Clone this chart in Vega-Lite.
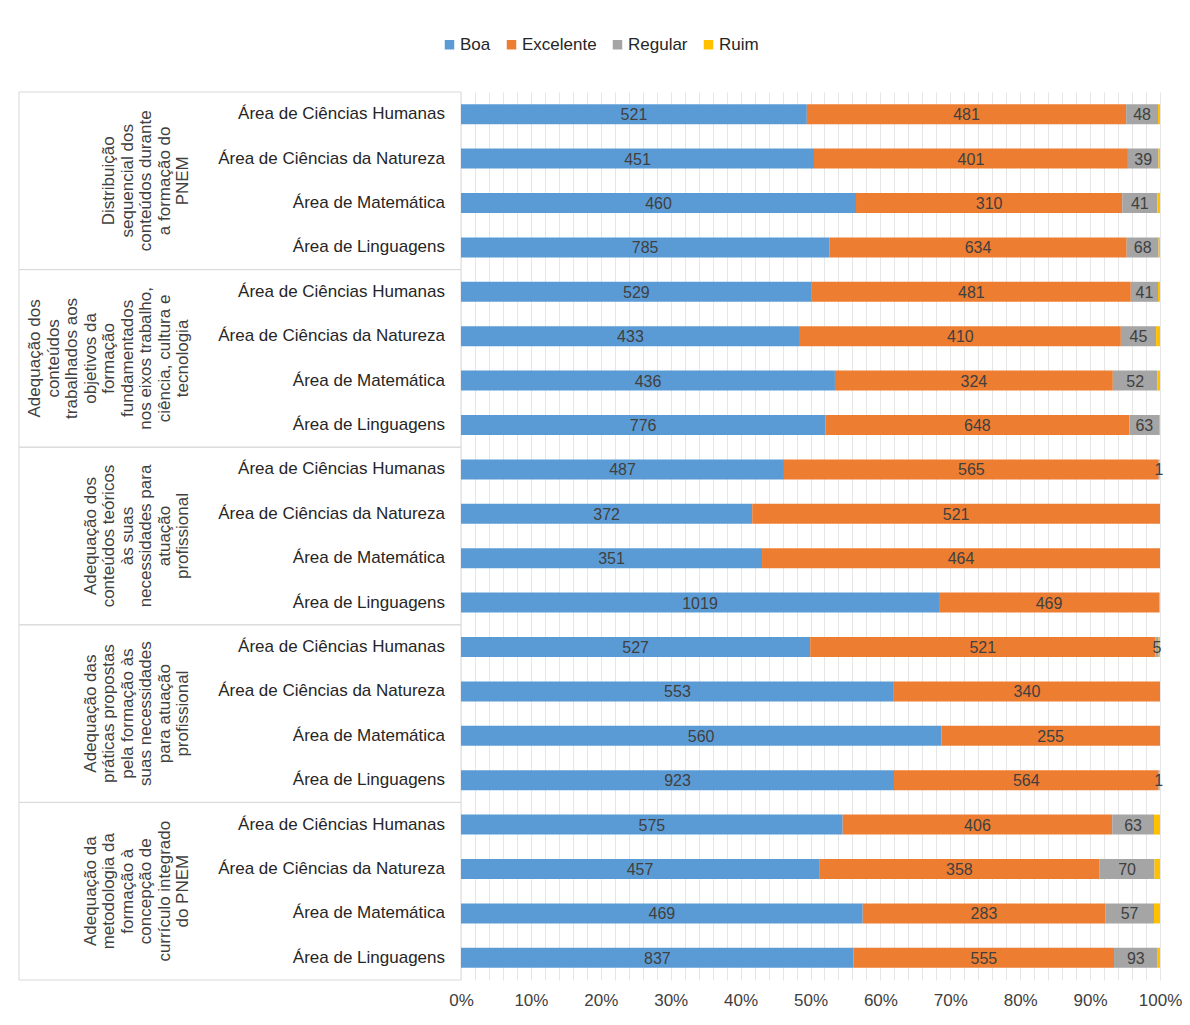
{
  "$schema": "https://vega.github.io/schema/vega-lite/v6.json",
  "background": "white",
  "padding": {"left": 18, "top": 36, "right": 31, "bottom": 10},
  "bounds": "flush",
  "data": {
    "values": [
      {"grupo": "Distribuição\nsequencial dos\nconteúdos durante\na formação do\nPNEM", "area": "Área de Ciências Humanas", "nivel": "Boa", "valor": 521},
      {"grupo": "Distribuição\nsequencial dos\nconteúdos durante\na formação do\nPNEM", "area": "Área de Ciências Humanas", "nivel": "Excelente", "valor": 481},
      {"grupo": "Distribuição\nsequencial dos\nconteúdos durante\na formação do\nPNEM", "area": "Área de Ciências Humanas", "nivel": "Regular", "valor": 48},
      {"grupo": "Distribuição\nsequencial dos\nconteúdos durante\na formação do\nPNEM", "area": "Área de Ciências Humanas", "nivel": "Ruim", "valor": 3},
      {"grupo": "Distribuição\nsequencial dos\nconteúdos durante\na formação do\nPNEM", "area": "Área de Ciências da Natureza", "nivel": "Boa", "valor": 451},
      {"grupo": "Distribuição\nsequencial dos\nconteúdos durante\na formação do\nPNEM", "area": "Área de Ciências da Natureza", "nivel": "Excelente", "valor": 401},
      {"grupo": "Distribuição\nsequencial dos\nconteúdos durante\na formação do\nPNEM", "area": "Área de Ciências da Natureza", "nivel": "Regular", "valor": 39},
      {"grupo": "Distribuição\nsequencial dos\nconteúdos durante\na formação do\nPNEM", "area": "Área de Ciências da Natureza", "nivel": "Ruim", "valor": 2},
      {"grupo": "Distribuição\nsequencial dos\nconteúdos durante\na formação do\nPNEM", "area": "Área de Matemática", "nivel": "Boa", "valor": 460},
      {"grupo": "Distribuição\nsequencial dos\nconteúdos durante\na formação do\nPNEM", "area": "Área de Matemática", "nivel": "Excelente", "valor": 310},
      {"grupo": "Distribuição\nsequencial dos\nconteúdos durante\na formação do\nPNEM", "area": "Área de Matemática", "nivel": "Regular", "valor": 41},
      {"grupo": "Distribuição\nsequencial dos\nconteúdos durante\na formação do\nPNEM", "area": "Área de Matemática", "nivel": "Ruim", "valor": 3},
      {"grupo": "Distribuição\nsequencial dos\nconteúdos durante\na formação do\nPNEM", "area": "Área de Linguagens", "nivel": "Boa", "valor": 785},
      {"grupo": "Distribuição\nsequencial dos\nconteúdos durante\na formação do\nPNEM", "area": "Área de Linguagens", "nivel": "Excelente", "valor": 634},
      {"grupo": "Distribuição\nsequencial dos\nconteúdos durante\na formação do\nPNEM", "area": "Área de Linguagens", "nivel": "Regular", "valor": 68},
      {"grupo": "Distribuição\nsequencial dos\nconteúdos durante\na formação do\nPNEM", "area": "Área de Linguagens", "nivel": "Ruim", "valor": 3},

      {"grupo": "Adequação dos\nconteúdos\ntrabalhados aos\nobjetivos da\nformação\nfundamentados\nnos eixos trabalho,\nciência, cultura e\ntecnologia", "area": "Área de Ciências Humanas", "nivel": "Boa", "valor": 529},
      {"grupo": "Adequação dos\nconteúdos\ntrabalhados aos\nobjetivos da\nformação\nfundamentados\nnos eixos trabalho,\nciência, cultura e\ntecnologia", "area": "Área de Ciências Humanas", "nivel": "Excelente", "valor": 481},
      {"grupo": "Adequação dos\nconteúdos\ntrabalhados aos\nobjetivos da\nformação\nfundamentados\nnos eixos trabalho,\nciência, cultura e\ntecnologia", "area": "Área de Ciências Humanas", "nivel": "Regular", "valor": 41},
      {"grupo": "Adequação dos\nconteúdos\ntrabalhados aos\nobjetivos da\nformação\nfundamentados\nnos eixos trabalho,\nciência, cultura e\ntecnologia", "area": "Área de Ciências Humanas", "nivel": "Ruim", "valor": 3},
      {"grupo": "Adequação dos\nconteúdos\ntrabalhados aos\nobjetivos da\nformação\nfundamentados\nnos eixos trabalho,\nciência, cultura e\ntecnologia", "area": "Área de Ciências da Natureza", "nivel": "Boa", "valor": 433},
      {"grupo": "Adequação dos\nconteúdos\ntrabalhados aos\nobjetivos da\nformação\nfundamentados\nnos eixos trabalho,\nciência, cultura e\ntecnologia", "area": "Área de Ciências da Natureza", "nivel": "Excelente", "valor": 410},
      {"grupo": "Adequação dos\nconteúdos\ntrabalhados aos\nobjetivos da\nformação\nfundamentados\nnos eixos trabalho,\nciência, cultura e\ntecnologia", "area": "Área de Ciências da Natureza", "nivel": "Regular", "valor": 45},
      {"grupo": "Adequação dos\nconteúdos\ntrabalhados aos\nobjetivos da\nformação\nfundamentados\nnos eixos trabalho,\nciência, cultura e\ntecnologia", "area": "Área de Ciências da Natureza", "nivel": "Ruim", "valor": 5},
      {"grupo": "Adequação dos\nconteúdos\ntrabalhados aos\nobjetivos da\nformação\nfundamentados\nnos eixos trabalho,\nciência, cultura e\ntecnologia", "area": "Área de Matemática", "nivel": "Boa", "valor": 436},
      {"grupo": "Adequação dos\nconteúdos\ntrabalhados aos\nobjetivos da\nformação\nfundamentados\nnos eixos trabalho,\nciência, cultura e\ntecnologia", "area": "Área de Matemática", "nivel": "Excelente", "valor": 324},
      {"grupo": "Adequação dos\nconteúdos\ntrabalhados aos\nobjetivos da\nformação\nfundamentados\nnos eixos trabalho,\nciência, cultura e\ntecnologia", "area": "Área de Matemática", "nivel": "Regular", "valor": 52},
      {"grupo": "Adequação dos\nconteúdos\ntrabalhados aos\nobjetivos da\nformação\nfundamentados\nnos eixos trabalho,\nciência, cultura e\ntecnologia", "area": "Área de Matemática", "nivel": "Ruim", "valor": 3},
      {"grupo": "Adequação dos\nconteúdos\ntrabalhados aos\nobjetivos da\nformação\nfundamentados\nnos eixos trabalho,\nciência, cultura e\ntecnologia", "area": "Área de Linguagens", "nivel": "Boa", "valor": 776},
      {"grupo": "Adequação dos\nconteúdos\ntrabalhados aos\nobjetivos da\nformação\nfundamentados\nnos eixos trabalho,\nciência, cultura e\ntecnologia", "area": "Área de Linguagens", "nivel": "Excelente", "valor": 648},
      {"grupo": "Adequação dos\nconteúdos\ntrabalhados aos\nobjetivos da\nformação\nfundamentados\nnos eixos trabalho,\nciência, cultura e\ntecnologia", "area": "Área de Linguagens", "nivel": "Regular", "valor": 63},
      {"grupo": "Adequação dos\nconteúdos\ntrabalhados aos\nobjetivos da\nformação\nfundamentados\nnos eixos trabalho,\nciência, cultura e\ntecnologia", "area": "Área de Linguagens", "nivel": "Ruim", "valor": 2},

      {"grupo": "Adequação dos\nconteúdos teóricos\nàs suas\nnecessidades para\natuação\nprofissional", "area": "Área de Ciências Humanas", "nivel": "Boa", "valor": 487},
      {"grupo": "Adequação dos\nconteúdos teóricos\nàs suas\nnecessidades para\natuação\nprofissional", "area": "Área de Ciências Humanas", "nivel": "Excelente", "valor": 565},
      {"grupo": "Adequação dos\nconteúdos teóricos\nàs suas\nnecessidades para\natuação\nprofissional", "area": "Área de Ciências Humanas", "nivel": "Regular", "valor": 1},
      {"grupo": "Adequação dos\nconteúdos teóricos\nàs suas\nnecessidades para\natuação\nprofissional", "area": "Área de Ciências Humanas", "nivel": "Ruim", "valor": 1},
      {"grupo": "Adequação dos\nconteúdos teóricos\nàs suas\nnecessidades para\natuação\nprofissional", "area": "Área de Ciências da Natureza", "nivel": "Boa", "valor": 372},
      {"grupo": "Adequação dos\nconteúdos teóricos\nàs suas\nnecessidades para\natuação\nprofissional", "area": "Área de Ciências da Natureza", "nivel": "Excelente", "valor": 521},
      {"grupo": "Adequação dos\nconteúdos teóricos\nàs suas\nnecessidades para\natuação\nprofissional", "area": "Área de Matemática", "nivel": "Boa", "valor": 351},
      {"grupo": "Adequação dos\nconteúdos teóricos\nàs suas\nnecessidades para\natuação\nprofissional", "area": "Área de Matemática", "nivel": "Excelente", "valor": 464},
      {"grupo": "Adequação dos\nconteúdos teóricos\nàs suas\nnecessidades para\natuação\nprofissional", "area": "Área de Linguagens", "nivel": "Boa", "valor": 1019},
      {"grupo": "Adequação dos\nconteúdos teóricos\nàs suas\nnecessidades para\natuação\nprofissional", "area": "Área de Linguagens", "nivel": "Excelente", "valor": 469},
      {"grupo": "Adequação dos\nconteúdos teóricos\nàs suas\nnecessidades para\natuação\nprofissional", "area": "Área de Linguagens", "nivel": "Ruim", "valor": 2},

      {"grupo": "Adequação das\npráticas propostas\npela formação às\nsuas necessidades\npara atuação\nprofissional", "area": "Área de Ciências Humanas", "nivel": "Boa", "valor": 527},
      {"grupo": "Adequação das\npráticas propostas\npela formação às\nsuas necessidades\npara atuação\nprofissional", "area": "Área de Ciências Humanas", "nivel": "Excelente", "valor": 521},
      {"grupo": "Adequação das\npráticas propostas\npela formação às\nsuas necessidades\npara atuação\nprofissional", "area": "Área de Ciências Humanas", "nivel": "Regular", "valor": 5},
      {"grupo": "Adequação das\npráticas propostas\npela formação às\nsuas necessidades\npara atuação\nprofissional", "area": "Área de Ciências Humanas", "nivel": "Ruim", "valor": 2},
      {"grupo": "Adequação das\npráticas propostas\npela formação às\nsuas necessidades\npara atuação\nprofissional", "area": "Área de Ciências da Natureza", "nivel": "Boa", "valor": 553},
      {"grupo": "Adequação das\npráticas propostas\npela formação às\nsuas necessidades\npara atuação\nprofissional", "area": "Área de Ciências da Natureza", "nivel": "Excelente", "valor": 340},
      {"grupo": "Adequação das\npráticas propostas\npela formação às\nsuas necessidades\npara atuação\nprofissional", "area": "Área de Matemática", "nivel": "Boa", "valor": 560},
      {"grupo": "Adequação das\npráticas propostas\npela formação às\nsuas necessidades\npara atuação\nprofissional", "area": "Área de Matemática", "nivel": "Excelente", "valor": 255},
      {"grupo": "Adequação das\npráticas propostas\npela formação às\nsuas necessidades\npara atuação\nprofissional", "area": "Área de Linguagens", "nivel": "Boa", "valor": 923},
      {"grupo": "Adequação das\npráticas propostas\npela formação às\nsuas necessidades\npara atuação\nprofissional", "area": "Área de Linguagens", "nivel": "Excelente", "valor": 564},
      {"grupo": "Adequação das\npráticas propostas\npela formação às\nsuas necessidades\npara atuação\nprofissional", "area": "Área de Linguagens", "nivel": "Regular", "valor": 1},
      {"grupo": "Adequação das\npráticas propostas\npela formação às\nsuas necessidades\npara atuação\nprofissional", "area": "Área de Linguagens", "nivel": "Ruim", "valor": 2},

      {"grupo": "Adequação da\nmetodologia da\nformação à\nconcepção de\ncurrículo integrado\ndo PNEM", "area": "Área de Ciências Humanas", "nivel": "Boa", "valor": 575},
      {"grupo": "Adequação da\nmetodologia da\nformação à\nconcepção de\ncurrículo integrado\ndo PNEM", "area": "Área de Ciências Humanas", "nivel": "Excelente", "valor": 406},
      {"grupo": "Adequação da\nmetodologia da\nformação à\nconcepção de\ncurrículo integrado\ndo PNEM", "area": "Área de Ciências Humanas", "nivel": "Regular", "valor": 63},
      {"grupo": "Adequação da\nmetodologia da\nformação à\nconcepção de\ncurrículo integrado\ndo PNEM", "area": "Área de Ciências Humanas", "nivel": "Ruim", "valor": 9},
      {"grupo": "Adequação da\nmetodologia da\nformação à\nconcepção de\ncurrículo integrado\ndo PNEM", "area": "Área de Ciências da Natureza", "nivel": "Boa", "valor": 457},
      {"grupo": "Adequação da\nmetodologia da\nformação à\nconcepção de\ncurrículo integrado\ndo PNEM", "area": "Área de Ciências da Natureza", "nivel": "Excelente", "valor": 358},
      {"grupo": "Adequação da\nmetodologia da\nformação à\nconcepção de\ncurrículo integrado\ndo PNEM", "area": "Área de Ciências da Natureza", "nivel": "Regular", "valor": 70},
      {"grupo": "Adequação da\nmetodologia da\nformação à\nconcepção de\ncurrículo integrado\ndo PNEM", "area": "Área de Ciências da Natureza", "nivel": "Ruim", "valor": 7},
      {"grupo": "Adequação da\nmetodologia da\nformação à\nconcepção de\ncurrículo integrado\ndo PNEM", "area": "Área de Matemática", "nivel": "Boa", "valor": 469},
      {"grupo": "Adequação da\nmetodologia da\nformação à\nconcepção de\ncurrículo integrado\ndo PNEM", "area": "Área de Matemática", "nivel": "Excelente", "valor": 283},
      {"grupo": "Adequação da\nmetodologia da\nformação à\nconcepção de\ncurrículo integrado\ndo PNEM", "area": "Área de Matemática", "nivel": "Regular", "valor": 57},
      {"grupo": "Adequação da\nmetodologia da\nformação à\nconcepção de\ncurrículo integrado\ndo PNEM", "area": "Área de Matemática", "nivel": "Ruim", "valor": 7},
      {"grupo": "Adequação da\nmetodologia da\nformação à\nconcepção de\ncurrículo integrado\ndo PNEM", "area": "Área de Linguagens", "nivel": "Boa", "valor": 837},
      {"grupo": "Adequação da\nmetodologia da\nformação à\nconcepção de\ncurrículo integrado\ndo PNEM", "area": "Área de Linguagens", "nivel": "Excelente", "valor": 555},
      {"grupo": "Adequação da\nmetodologia da\nformação à\nconcepção de\ncurrículo integrado\ndo PNEM", "area": "Área de Linguagens", "nivel": "Regular", "valor": 93},
      {"grupo": "Adequação da\nmetodologia da\nformação à\nconcepção de\ncurrículo integrado\ndo PNEM", "area": "Área de Linguagens", "nivel": "Ruim", "valor": 5}
    ]
  },
  "transform": [
    {"calculate": "datum.grupo + '|' + datum.area", "as": "linha"}
  ],
  "hconcat": [
    {
      "width": 442,
      "height": 888,
      "layer": [
        {
          "transform": [{"aggregate": [{"op": "count", "as": "n"}], "groupby": ["grupo"]}],
          "mark": {"type": "rect", "fill": null, "stroke": "#d9d9d9", "strokeWidth": 1},
          "encoding": {
            "y": {"field": "grupo", "type": "nominal", "sort": null, "axis": null,
                  "scale": {"paddingInner": 0, "paddingOuter": 0}},
            "x": {"datum": 0, "type": "quantitative", "scale": {"domain": [0, 1]}, "axis": null},
            "x2": {"datum": 1}
          }
        },
        {
          "transform": [
            {"aggregate": [{"op": "count", "as": "n"}], "groupby": ["grupo"]},
            {"calculate": "reverse(split(datum.grupo, '\\n'))", "as": "rotulo"}
          ],
          "mark": {"type": "text", "angle": 270, "align": "center", "baseline": "bottom",
                   "font": "Liberation Sans, Arial", "fontSize": 17, "letterSpacing": 0.8,
                   "lineHeight": -18.5, "color": "#404040"},
          "encoding": {
            "y": {"field": "grupo", "type": "nominal", "sort": null, "axis": null,
                  "scale": {"paddingInner": 0, "paddingOuter": 0}},
            "x": {"datum": 0.392, "type": "quantitative", "scale": {"domain": [0, 1]}, "axis": null},
            "text": {"field": "rotulo"}
          }
        },
        {
          "transform": [{"aggregate": [{"op": "count", "as": "n"}], "groupby": ["linha", "area"]}],
          "mark": {"type": "text", "align": "right", "baseline": "middle", "dx": -16,
                   "font": "Liberation Sans, Arial", "fontSize": 17,
                   "color": "#262626"},
          "encoding": {
            "y": {"field": "linha", "type": "nominal", "sort": null, "axis": null,
                  "scale": {"paddingInner": 0.55, "paddingOuter": 0.275}},
            "x": {"datum": 1, "type": "quantitative", "scale": {"domain": [0, 1]}, "axis": null},
            "text": {"field": "area"}
          }
        }
      ],
      "resolve": {"scale": {"y": "independent"}}
    },
    {
      "width": 699,
      "height": 888,
      "transform": [
        {"stack": "valor", "groupby": ["linha"], "sort": [{"field": "nivel", "order": "ascending"}],
         "offset": "normalize", "as": ["v0", "v1"]},
        {"calculate": "(datum.v0 + datum.v1) / 2", "as": "meio"}
      ],
      "encoding": {
        "y": {"field": "linha", "type": "nominal", "sort": null, "axis": null,
              "scale": {"paddingInner": 0.55, "paddingOuter": 0.275}}
      },
      "layer": [
        {
          "mark": {"type": "bar"},
          "encoding": {
            "x": {"field": "v0", "type": "quantitative",
                  "scale": {"domain": [0, 1], "nice": false},
                  "axis": {
                    "orient": "bottom",
                    "values": [0, 0.02, 0.04, 0.06, 0.08, 0.1, 0.12, 0.14, 0.16, 0.18, 0.2, 0.22, 0.24, 0.26, 0.28, 0.3, 0.32, 0.34, 0.36, 0.38, 0.4, 0.42, 0.44, 0.46, 0.48, 0.5, 0.52, 0.54, 0.56, 0.58, 0.6, 0.62, 0.64, 0.66, 0.68, 0.7, 0.72, 0.74, 0.76, 0.78, 0.8, 0.82, 0.84, 0.86, 0.88, 0.9, 0.92, 0.94, 0.96, 0.98, 1],
                    "labels": false, "title": null, "domain": false, "ticks": false,
                    "grid": true, "gridColor": "#e6e6e6", "gridWidth": 1
                  }},
            "x2": {"field": "v1"},
            "color": {"field": "nivel", "type": "nominal",
                      "scale": {"domain": ["Boa", "Excelente", "Regular", "Ruim"],
                                "range": ["#5b9bd5", "#ed7d31", "#a5a5a5", "#ffc000"]},
                      "legend": {"title": null, "orient": "top", "direction": "horizontal",
                                 "symbolType": "square", "symbolSize": 90, "symbolStrokeWidth": 0,
                                 "labelFont": "Liberation Sans, Arial",
                                 "labelFontSize": 17, "labelColor": "#262626",
                                 "columnPadding": 12, "labelOffset": 2, "offset": 38}}
          }
        },
        {
          "transform": [{"filter": "datum.nivel != 'Ruim' && datum.valor > 0"}],
          "mark": {"type": "text", "baseline": "middle", "align": "center", "dy": 1,
                   "font": "Liberation Sans, Arial", "fontSize": 16,
                   "color": "#404040"},
          "encoding": {
            "x": {"field": "meio", "type": "quantitative",
                  "axis": {
                    "orient": "bottom",
                    "values": [0, 0.1, 0.2, 0.3, 0.4, 0.5, 0.6, 0.7, 0.8, 0.9, 1],
                    "format": ".0%", "labelOverlap": false, "labelFlush": false,
                    "title": null, "domain": false, "ticks": false, "grid": false,
                    "labelFont": "Liberation Sans, Arial",
                    "labelFontSize": 17, "labelColor": "#404040", "labelPadding": 12
                  }},
            "text": {"field": "valor", "type": "quantitative", "format": "d"}
          }
        }
      ],
      "resolve": {"axis": {"x": "independent"}}
    }
  ],
  "spacing": 0,
  "config": {
    "view": {"stroke": null},
    "legend": {"layout": {"top": {"anchor": "middle"}}}
  }
}
